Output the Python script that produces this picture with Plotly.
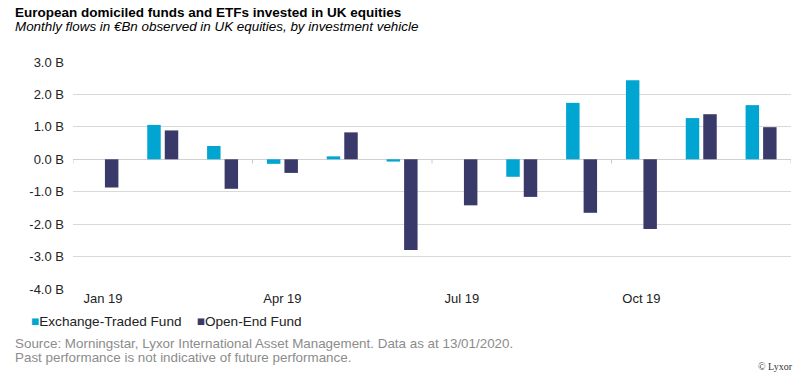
import plotly.graph_objects as go

months = ["Jan 19", "Feb 19", "Mar 19", "Apr 19", "May 19", "Jun 19",
          "Jul 19", "Aug 19", "Sep 19", "Oct 19", "Nov 19", "Dec 19"]
etf = [0.0, 1.06, 0.41, -0.14, 0.09, -0.07, 0.0, -0.54, 1.74, 2.44, 1.27, 1.67]
oef = [-0.87, 0.89, -0.91, -0.42, 0.83, -2.80, -1.42, -1.16, -1.65, -2.15, 1.39, 0.99]
x_labels = ["Jan 19", "Apr 19", "Jul 19", "Oct 19"]
y_vals = [3, 2, 1, 0, -1, -2, -3, -4]
y_text = ["3.0 B", "2.0 B", "1.0 B", "0.0 B", "-1.0 B", "-2.0 B", "-3.0 B", "-4.0 B"]

ETF_COLOR = "#00A5D2"
OEF_COLOR = "#3A3A6A"
W, H = 800, 380
L, R, T, B = 73, 9, 62, 91
PW, PH = W - L - R, H - T - B

def px(x):
    return (x - L) / PW

def py(y):
    return (H - B - y) / PH

fig = go.Figure()
fig.add_trace(go.Bar(x=months, y=etf, name="Exchange-Traded Fund",
                     marker_color=ETF_COLOR, marker_line_width=0, showlegend=False))
fig.add_trace(go.Bar(x=months, y=oef, name="Open-End Fund",
                     marker_color=OEF_COLOR, marker_line_width=0, showlegend=False))

# quarter tick marks on the zero line
for xv in [-0.5, 2.5, 5.5, 8.5, 11.5]:
    fig.add_shape(type="line", xref="x", yref="y", x0=xv, x1=xv, y0=0, y1=-0.13,
                  line=dict(color="#C8C8C8", width=1))

font_main = "Liberation Sans, Arial, sans-serif"
ann = []
ann.append(dict(text="<b>European domiciled funds and ETFs invested in UK equities</b>",
                x=px(13), y=py(12), xanchor="left", yanchor="middle",
                font=dict(size=13.5, color="#000000")))
ann.append(dict(text="<i>Monthly flows in €Bn observed in UK equities, by investment vehicle</i>",
                x=px(13), y=py(27), xanchor="left", yanchor="middle",
                font=dict(size=13.4, color="#000000")))
ann.append(dict(text=f'<span style="color:{ETF_COLOR}">■</span>Exchange-Traded Fund    '
                     f'<span style="color:{OEF_COLOR}">■</span>Open-End Fund',
                x=px(29), y=py(321), xanchor="left", yanchor="middle",
                font=dict(size=13.6, color="#222222")))
ann.append(dict(text="Source: Morningstar, Lyxor International Asset Management. Data as at 13/01/2020.",
                x=px(13), y=py(343), xanchor="left", yanchor="middle",
                font=dict(size=13.4, color="#8C8C8C")))
ann.append(dict(text="Past performance is not indicative of future performance.",
                x=px(13), y=py(357), xanchor="left", yanchor="middle",
                font=dict(size=13.4, color="#8C8C8C")))
ann.append(dict(text="© Lyxor", x=px(795), y=py(366), xanchor="right", yanchor="middle",
                font=dict(size=10, color="#333333", family="Liberation Serif, serif")))
for a in ann:
    a.update(xref="paper", yref="paper", showarrow=False)

fig.update_layout(
    width=W, height=H,
    margin=dict(l=L, r=R, t=T, b=B, autoexpand=False),
    paper_bgcolor="white", plot_bgcolor="white",
    font=dict(family=font_main, size=13, color="#222222"),
    barmode="group", bargap=0.415, bargroupgap=0.23,
    annotations=ann,
    showlegend=False,
    xaxis=dict(type="category", categoryorder="array", categoryarray=months,
               tickmode="array", tickvals=x_labels, ticktext=x_labels,
               showgrid=False, showline=False, ticks="", zeroline=False,
               range=[-0.5, 11.5], tickfont=dict(size=13, color="#222222")),
    yaxis=dict(range=[-4, 3], tickmode="array", tickvals=y_vals, ticktext=y_text,
               showgrid=True, gridcolor="#D9D9D9", gridwidth=1,
               zeroline=True, zerolinecolor="#D0D0D0", zerolinewidth=1,
               showline=False, ticks="", ticklabelstandoff=8,
               tickfont=dict(size=13, color="#222222")),
)

fig.write_html("out.html",
               config={"displayModeBar": False},
               post_script="document.body.style.margin='0';document.body.style.overflow='hidden';")
